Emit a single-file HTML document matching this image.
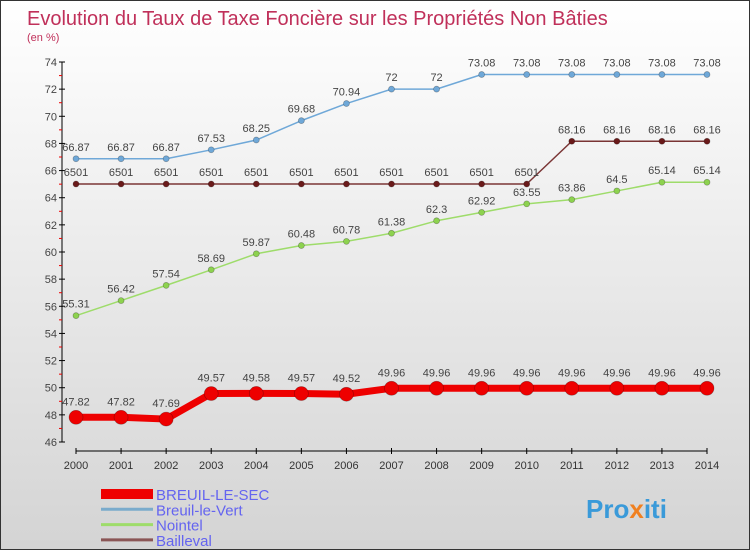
<!DOCTYPE html>
<html><head><meta charset="utf-8"><style>
body{margin:0}
#c{width:750px;height:550px;position:relative;box-sizing:border-box;border:1px solid #333;background:linear-gradient(#ffffff,#d4d4d4);font-family:"Liberation Sans",sans-serif;overflow:hidden}
svg{position:absolute;left:0;top:0}
</style></head><body>
<div id="c">
<svg id="s" width="750" height="550">
<text x="26" y="24" font-size="20" fill="#c0305a">Evolution du Taux de Taxe Foncière sur les Propriétés Non Bâties</text>
<text x="26" y="40" font-size="11" fill="#c0305a">(en %)</text>
<text x="585" y="517" font-size="26" font-weight="bold" fill="#3a9ad9">Pro<tspan fill="#f08020">x</tspan>iti</text>
</svg>
</div>
<script>
const years=[2000,2001,2002,2003,2004,2005,2006,2007,2008,2009,2010,2011,2012,2013,2014];
const breuilSec=[47.82,47.82,47.69,49.57,49.58,49.57,49.52,49.96,49.96,49.96,49.96,49.96,49.96,49.96,49.96];
const breuilVert=[66.87,66.87,66.87,67.53,68.25,69.68,70.94,72,72,73.08,73.08,73.08,73.08,73.08,73.08];
const nointel=[55.31,56.42,57.54,58.69,59.87,60.48,60.78,61.38,62.3,62.92,63.55,63.86,64.5,65.14,65.14];
const bailleval=[65.01,65.01,65.01,65.01,65.01,65.01,65.01,65.01,65.01,65.01,65.01,68.16,68.16,68.16,68.16];
const yTicks=[46,48,50,52,54,56,58,60,62,64,66,68,70,72,74];
const seriesNames=["BREUIL-LE-SEC","Breuil-le-Vert","Nointel","Bailleval"];
const NS="http://www.w3.org/2000/svg";
const s=document.getElementById('s');
function X(i){return 75+i*(706-75)/(years.length-1);}
function Y(v){return 441-(v-46)*(441-61)/28;}
function el(t,a,p){const e=document.createElementNS(NS,t);for(const k in a)e.setAttribute(k,a[k]);(p||s).appendChild(e);return e;}
const ax=el('line',{x1:61,y1:61,x2:61,y2:441,stroke:'#000','stroke-width':1});


const xa=el('line',{x1:75,y1:450,x2:706,y2:450,stroke:'#000','stroke-width':1});


yTicks.forEach((v,i)=>{
  el('line',{x1:58,y1:Y(v),x2:64,y2:Y(v),stroke:'#000'});
  if(i<yTicks.length-1) el('line',{x1:58,y1:Y(v+1),x2:61,y2:Y(v+1),stroke:'#e00'});
  const t=el('text',{x:56,y:Y(v)+4,'font-size':11,fill:'#444','text-anchor':'end'});t.textContent=v;
  
  
});
years.forEach((yr,i)=>{
  el('line',{x1:X(i),y1:447,x2:X(i),y2:453,stroke:'#000'});
  const t=el('text',{x:X(i),y:468,'font-size':11,fill:'#333','text-anchor':'middle'});t.textContent=yr;
  
  
});
function series(data,color,mcolor,w,r,name,fmt){
  const g=el('g',{});
  
  
  el('polyline',{points:data.map((v,i)=>X(i)+','+Y(v)).join(' '),fill:'none',stroke:color,'stroke-width':w,'stroke-linejoin':'round'},g);
  data.forEach((v,i)=>{
    const c=el('circle',{cx:X(i),cy:Y(v),r:r,fill:mcolor,stroke:'rgba(0,0,0,0.3)','stroke-width':0.7},g);
    
    
    const t=el('text',{x:X(i),y:Y(v)-(r+5),'font-size':11,fill:'#444','text-anchor':'middle'},g);
    t.textContent=fmt(v);
    
    
  });
}
const f=v=>String(v);
series(breuilVert,'#6fa8d8','#6fa8d8',1.5,3,'series-breuil-le-vert',f);
series(bailleval,'#7a3535','#6a1a1a',1.5,3,'series-bailleval',v=>v===65.01?'6501':String(v));
series(nointel,'#9edc6a','#8dd24f',1.5,3,'series-nointel',f);
series(breuilSec,'#e00','#e00',7,7,'series-breuil-le-sec',f);
const lc=['#e00','#7aabcc','#9edc6a','#8a5555'],lw=[10,3,3,3];
seriesNames.forEach((n,i)=>{
  const y=493+i*15.3;
  const l=el('line',{x1:100,y1:y,x2:152,y2:y,stroke:lc[i],'stroke-width':lw[i]});
  
  
  const t=el('text',{x:155,y:y+6,'font-size':15,fill:'#6464f0'});t.textContent=n;
  
  
});
</script>
</body></html>
